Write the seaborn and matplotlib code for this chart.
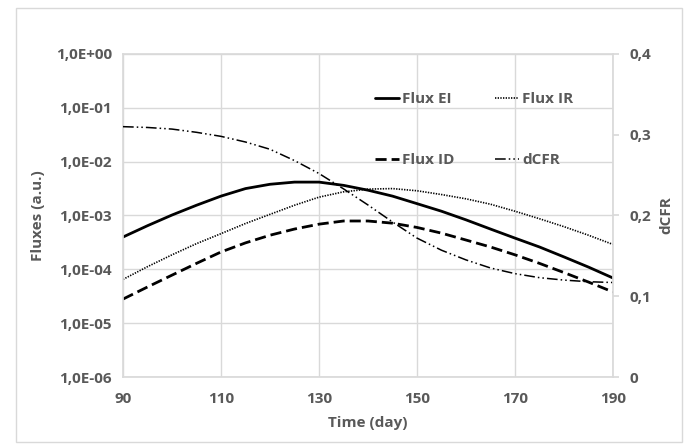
import matplotlib
matplotlib.use('Agg')
import matplotlib.pyplot as plt
import matplotlib.patches as mpatches
import matplotlib.ticker as mticker
import pandas as pd
import seaborn as sns

days = [90, 95, 100, 105, 110, 115, 120, 125, 130, 135, 140,
        145, 150, 155, 160, 165, 170, 175, 180, 185, 190]

flux_ei = [3.98e-4, 6.46e-4, 1.02e-3, 1.55e-3, 2.29e-3, 3.16e-3, 3.80e-3, 4.17e-3, 4.17e-3, 3.63e-3, 2.95e-3,
           2.29e-3, 1.66e-3, 1.20e-3, 8.3e-4, 5.6e-4, 3.8e-4, 2.6e-4, 1.70e-4, 1.10e-4, 6.9e-5]
flux_ir = [6.5e-5, 1.12e-4, 1.86e-4, 3.0e-4, 4.6e-4, 7.1e-4, 1.05e-3, 1.55e-3, 2.19e-3, 2.75e-3, 3.09e-3,
           3.16e-3, 2.88e-3, 2.45e-3, 2.04e-3, 1.62e-3, 1.20e-3, 8.7e-4, 6.2e-4, 4.3e-4, 2.9e-4]
flux_id = [2.8e-5, 4.7e-5, 7.8e-5, 1.29e-4, 2.1e-4, 3.1e-4, 4.3e-4, 5.6e-4, 6.9e-4, 7.9e-4, 7.9e-4,
           7.2e-4, 6.0e-4, 4.7e-4, 3.5e-4, 2.6e-4, 1.86e-4, 1.29e-4, 8.7e-5, 5.8e-5, 3.8e-5]
dcfr = [0.310, 0.309, 0.307, 0.303, 0.298, 0.291, 0.282, 0.268, 0.252, 0.233, 0.213,
        0.192, 0.172, 0.157, 0.145, 0.135, 0.128, 0.123, 0.120, 0.118, 0.117]

x_ticks = [90, 110, 130, 150, 170, 190]
left_ticks = [1e0, 1e-1, 1e-2, 1e-3, 1e-4, 1e-5, 1e-6]
left_labels = ['1,0E+00', '1,0E-01', '1,0E-02', '1,0E-03', '1,0E-04', '1,0E-05', '1,0E-06']
right_ticks = [0, 0.1, 0.2, 0.3, 0.4]
right_labels = ['0', '0,1', '0,2', '0,3', '0,4']

text_color = '#595959'
grid_color = '#d9d9d9'

sns.set_theme(style='white')
plt.rcParams['font.family'] = ['Open Sans', 'DejaVu Sans']

df = pd.DataFrame({'day': days, 'ei': flux_ei, 'ir': flux_ir, 'id': flux_id, 'dcfr': dcfr})

fig = plt.figure(figsize=(7, 4.45), dpi=100)
ax = fig.add_axes([0.1757, 0.1528, 0.70, 0.7259])
ax2 = ax.twinx()

# outer chart border
fig.patches.append(mpatches.Rectangle((16 / 700, 3 / 445), 666 / 700, 434 / 445,
                                      transform=fig.transFigure, fill=False,
                                      edgecolor=grid_color, linewidth=1))

sns.lineplot(data=df, x='day', y='ei', ax=ax, color='black', linewidth=2, label='Flux EI', legend=False)
sns.lineplot(data=df, x='day', y='ir', ax=ax, color='black', linewidth=1.2,
             linestyle=(0, (0.8, 0.8)), label='Flux IR', legend=False)
sns.lineplot(data=df, x='day', y='id', ax=ax, color='black', linewidth=2,
             linestyle=(0, (4, 1.8)), label='Flux ID', legend=False)
sns.lineplot(data=df, x='day', y='dcfr', ax=ax2, color='black', linewidth=1.1,
             linestyle=(0, (7, 2, 1, 2, 1, 2)), label='dCFR', legend=False)

ax.set_yscale('log')
ax.set_xlim(90, 190)
ax.set_ylim(1e-6, 1e0)
ax2.set_ylim(0, 0.4)

ax.set_xticks(x_ticks)
ax.set_xticklabels([str(t) for t in x_ticks])
ax.yaxis.set_major_locator(mticker.FixedLocator(left_ticks))
ax.yaxis.set_minor_locator(mticker.NullLocator())
ax.set_yticks(left_ticks)
ax.set_yticklabels(left_labels)
ax2.set_yticks(right_ticks)
ax2.set_yticklabels(right_labels)

ax.grid(True, color=grid_color, linewidth=1)
ax2.grid(False)
ax.set_axisbelow(True)

for a in (ax, ax2):
    for side in ('left', 'right', 'bottom', 'top'):
        a.spines[side].set_color(grid_color)
ax.spines['right'].set_visible(False)
ax2.spines['left'].set_visible(False)
ax2.spines['bottom'].set_visible(False)
ax2.spines['top'].set_visible(False)

ax.tick_params(axis='y', length=0, labelsize=11, labelcolor=text_color, pad=8)
ax.tick_params(axis='x', length=0, labelsize=11, labelcolor=text_color, pad=11)
ax2.tick_params(axis='y', length=4, color=grid_color, labelsize=11, labelcolor=text_color, pad=8)
for lbl in ax.get_xticklabels() + ax.get_yticklabels() + ax2.get_yticklabels():
    lbl.set_fontweight('bold')

ax.set_xlabel('Time (day)', fontsize=11, color=text_color, fontweight='bold', labelpad=7)
ax.set_ylabel('Fluxes (a.u.)', fontsize=11, color=text_color, fontweight='bold', labelpad=8)
ax2.set_ylabel('dCFR', fontsize=11, color=text_color, fontweight='bold', labelpad=6)

h1, l1 = ax.get_legend_handles_labels()
h2, l2 = ax2.get_legend_handles_labels()
handles = [h1[0], h1[2], h1[1], h2[0]]
labels = [l1[0], l1[2], l1[1], l2[0]]
leg = ax2.legend(handles, labels, ncol=2, frameon=False, loc='upper left',
                 bbox_to_anchor=(375 / 700, 1 - 92 / 445), bbox_transform=fig.transFigure,
                 fontsize=11, handlelength=1.6, handletextpad=0.2, columnspacing=2.6,
                 labelspacing=3.1, borderpad=0, borderaxespad=0)
for t in leg.get_texts():
    t.set_color(text_color)
    t.set_fontweight('bold')

fig.savefig('out.png', dpi=100)
